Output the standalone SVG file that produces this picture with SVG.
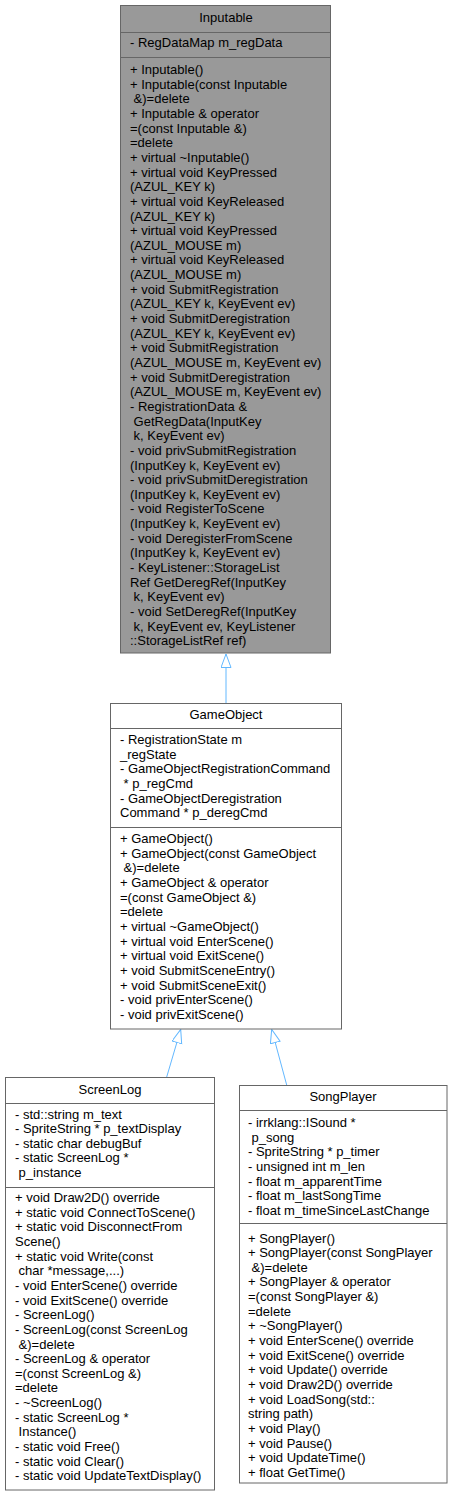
<svg xmlns="http://www.w3.org/2000/svg" width="453" height="1497" viewBox="0 0 453 1497" xml:space="preserve">
<style>
.box{fill:#ffffff;stroke:#666666;stroke-width:1}
.hl{fill:#999999;stroke:#666666;stroke-width:1}
.sep{stroke:#666666;stroke-width:1}
text{font-family:"Liberation Sans",Arial,sans-serif;font-size:13px;fill:#000000}
.t{text-anchor:middle}
.edge{fill:none;stroke:#63b8ff;stroke-width:1}
</style>
<defs>
<marker id="inh" markerUnits="userSpaceOnUse" markerWidth="16" markerHeight="12" refX="14" refY="5" orient="auto">
<path d="M0.5,0 L14,5 L0.5,10 Z" fill="#ffffff" stroke="#63b8ff" stroke-width="1"/>
</marker>
</defs>
<rect width="453" height="1497" fill="#ffffff"/>
<g id="edges">
<path class="edge" d="M226,703 L226,654" marker-end="url(#inh)"/>
<path class="edge" d="M166.7,1077 L180.7,1029.5" marker-end="url(#inh)"/>
<path class="edge" d="M286.7,1085 L271.7,1029.5" marker-end="url(#inh)"/>
</g>
<g id="Inputable">
<rect class="hl" x="120.5" y="5.5" width="210" height="647.5"/>
<line class="sep" x1="120.5" y1="32.5" x2="330.5" y2="32.5"/>
<line class="sep" x1="120.5" y1="57.5" x2="330.5" y2="57.5"/>
<text class="t" x="226" y="22">Inputable</text>
<text x="130" y="47">- RegDataMap m_regData</text>
<text x="130" y="74"><tspan x="130" dy="0">+ Inputable()</tspan><tspan x="130" dy="14.65">+ Inputable(const Inputable</tspan><tspan x="130" dy="14.65"> &amp;)=delete</tspan><tspan x="130" dy="14.65">+ Inputable &amp; operator</tspan><tspan x="130" dy="14.65">=(const Inputable &amp;)</tspan><tspan x="130" dy="14.65">=delete</tspan><tspan x="130" dy="14.65">+ virtual ~Inputable()</tspan><tspan x="130" dy="14.65">+ virtual void KeyPressed</tspan><tspan x="130" dy="14.65">(AZUL_KEY k)</tspan><tspan x="130" dy="14.65">+ virtual void KeyReleased</tspan><tspan x="130" dy="14.65">(AZUL_KEY k)</tspan><tspan x="130" dy="14.65">+ virtual void KeyPressed</tspan><tspan x="130" dy="14.65">(AZUL_MOUSE m)</tspan><tspan x="130" dy="14.65">+ virtual void KeyReleased</tspan><tspan x="130" dy="14.65">(AZUL_MOUSE m)</tspan><tspan x="130" dy="14.65">+ void SubmitRegistration</tspan><tspan x="130" dy="14.65">(AZUL_KEY k, KeyEvent ev)</tspan><tspan x="130" dy="14.65">+ void SubmitDeregistration</tspan><tspan x="130" dy="14.65">(AZUL_KEY k, KeyEvent ev)</tspan><tspan x="130" dy="14.65">+ void SubmitRegistration</tspan><tspan x="130" dy="14.65">(AZUL_MOUSE m, KeyEvent ev)</tspan><tspan x="130" dy="14.65">+ void SubmitDeregistration</tspan><tspan x="130" dy="14.65">(AZUL_MOUSE m, KeyEvent ev)</tspan><tspan x="130" dy="14.65">- RegistrationData &amp;</tspan><tspan x="130" dy="14.65"> GetRegData(InputKey</tspan><tspan x="130" dy="14.65"> k, KeyEvent ev)</tspan><tspan x="130" dy="14.65">- void privSubmitRegistration</tspan><tspan x="130" dy="14.65">(InputKey k, KeyEvent ev)</tspan><tspan x="130" dy="14.65">- void privSubmitDeregistration</tspan><tspan x="130" dy="14.65">(InputKey k, KeyEvent ev)</tspan><tspan x="130" dy="14.65">- void RegisterToScene</tspan><tspan x="130" dy="14.65">(InputKey k, KeyEvent ev)</tspan><tspan x="130" dy="14.65">- void DeregisterFromScene</tspan><tspan x="130" dy="14.65">(InputKey k, KeyEvent ev)</tspan><tspan x="130" dy="14.65">- KeyListener::StorageList</tspan><tspan x="130" dy="14.65">Ref GetDeregRef(InputKey</tspan><tspan x="130" dy="14.65"> k, KeyEvent ev)</tspan><tspan x="130" dy="14.65">- void SetDeregRef(InputKey</tspan><tspan x="130" dy="14.65"> k, KeyEvent ev, KeyListener</tspan><tspan x="130" dy="14.65">::StorageListRef ref)</tspan></text>
</g>
<g id="GameObject">
<rect class="box" x="110.5" y="703.5" width="231" height="325.5"/>
<line class="sep" x1="110.5" y1="728.5" x2="341.5" y2="728.5"/>
<line class="sep" x1="110.5" y1="827.5" x2="341.5" y2="827.5"/>
<text class="t" x="226" y="719">GameObject</text>
<text x="120" y="744"><tspan x="120" dy="0">- RegistrationState m</tspan><tspan x="120" dy="14.65">_regState</tspan><tspan x="120" dy="14.65">- GameObjectRegistrationCommand</tspan><tspan x="120" dy="14.65"> * p_regCmd</tspan><tspan x="120" dy="14.65">- GameObjectDeregistration</tspan><tspan x="120" dy="14.65">Command * p_deregCmd</tspan></text>
<text x="120" y="843"><tspan x="120" dy="0">+ GameObject()</tspan><tspan x="120" dy="14.65">+ GameObject(const GameObject</tspan><tspan x="120" dy="14.65"> &amp;)=delete</tspan><tspan x="120" dy="14.65">+ GameObject &amp; operator</tspan><tspan x="120" dy="14.65">=(const GameObject &amp;)</tspan><tspan x="120" dy="14.65">=delete</tspan><tspan x="120" dy="14.65">+ virtual ~GameObject()</tspan><tspan x="120" dy="14.65">+ virtual void EnterScene()</tspan><tspan x="120" dy="14.65">+ virtual void ExitScene()</tspan><tspan x="120" dy="14.65">+ void SubmitSceneEntry()</tspan><tspan x="120" dy="14.65">+ void SubmitSceneExit()</tspan><tspan x="120" dy="14.65">- void privEnterScene()</tspan><tspan x="120" dy="14.65">- void privExitScene()</tspan></text>
</g>
<g id="ScreenLog">
<rect class="box" x="5.5" y="1077.5" width="209" height="412.5"/>
<line class="sep" x1="5.5" y1="1103.5" x2="214.5" y2="1103.5"/>
<line class="sep" x1="5.5" y1="1187.5" x2="214.5" y2="1187.5"/>
<text class="t" x="110" y="1094">ScreenLog</text>
<text x="15" y="1118.5"><tspan x="15" dy="0">- std::string m_text</tspan><tspan x="15" dy="14.65">- SpriteString * p_textDisplay</tspan><tspan x="15" dy="14.65">- static char debugBuf</tspan><tspan x="15" dy="14.65">- static ScreenLog *</tspan><tspan x="15" dy="14.65"> p_instance</tspan></text>
<text x="15" y="1202"><tspan x="15" dy="0">+ void Draw2D() override</tspan><tspan x="15" dy="14.65">+ static void ConnectToScene()</tspan><tspan x="15" dy="14.65">+ static void DisconnectFrom</tspan><tspan x="15" dy="14.65">Scene()</tspan><tspan x="15" dy="14.65">+ static void Write(const</tspan><tspan x="15" dy="14.65"> char *message,...)</tspan><tspan x="15" dy="14.65">- void EnterScene() override</tspan><tspan x="15" dy="14.65">- void ExitScene() override</tspan><tspan x="15" dy="14.65">- ScreenLog()</tspan><tspan x="15" dy="14.65">- ScreenLog(const ScreenLog</tspan><tspan x="15" dy="14.65"> &amp;)=delete</tspan><tspan x="15" dy="14.65">- ScreenLog &amp; operator</tspan><tspan x="15" dy="14.65">=(const ScreenLog &amp;)</tspan><tspan x="15" dy="14.65">=delete</tspan><tspan x="15" dy="14.65">- ~ScreenLog()</tspan><tspan x="15" dy="14.65">- static ScreenLog *</tspan><tspan x="15" dy="14.65"> Instance()</tspan><tspan x="15" dy="14.65">- static void Free()</tspan><tspan x="15" dy="14.65">- static void Clear()</tspan><tspan x="15" dy="14.65">- static void UpdateTextDisplay()</tspan></text>
</g>
<g id="SongPlayer">
<rect class="box" x="239.5" y="1085.5" width="207.5" height="397.5"/>
<line class="sep" x1="239.5" y1="1110.5" x2="447" y2="1110.5"/>
<line class="sep" x1="239.5" y1="1223.5" x2="447" y2="1223.5"/>
<text class="t" x="343" y="1101">SongPlayer</text>
<text x="248" y="1127"><tspan x="248" dy="0">- irrklang::ISound *</tspan><tspan x="248" dy="14.65"> p_song</tspan><tspan x="248" dy="14.65">- SpriteString * p_timer</tspan><tspan x="248" dy="14.65">- unsigned int m_len</tspan><tspan x="248" dy="14.65">- float m_apparentTime</tspan><tspan x="248" dy="14.65">- float m_lastSongTime</tspan><tspan x="248" dy="14.65">- float m_timeSinceLastChange</tspan></text>
<text x="248" y="1242.5"><tspan x="248" dy="0">+ SongPlayer()</tspan><tspan x="248" dy="14.65">+ SongPlayer(const SongPlayer</tspan><tspan x="248" dy="14.65"> &amp;)=delete</tspan><tspan x="248" dy="14.65">+ SongPlayer &amp; operator</tspan><tspan x="248" dy="14.65">=(const SongPlayer &amp;)</tspan><tspan x="248" dy="14.65">=delete</tspan><tspan x="248" dy="14.65">+ ~SongPlayer()</tspan><tspan x="248" dy="14.65">+ void EnterScene() override</tspan><tspan x="248" dy="14.65">+ void ExitScene() override</tspan><tspan x="248" dy="14.65">+ void Update() override</tspan><tspan x="248" dy="14.65">+ void Draw2D() override</tspan><tspan x="248" dy="14.65">+ void LoadSong(std::</tspan><tspan x="248" dy="14.65">string path)</tspan><tspan x="248" dy="14.65">+ void Play()</tspan><tspan x="248" dy="14.65">+ void Pause()</tspan><tspan x="248" dy="14.65">+ void UpdateTime()</tspan><tspan x="248" dy="14.65">+ float GetTime()</tspan></text>
</g>
</svg>
